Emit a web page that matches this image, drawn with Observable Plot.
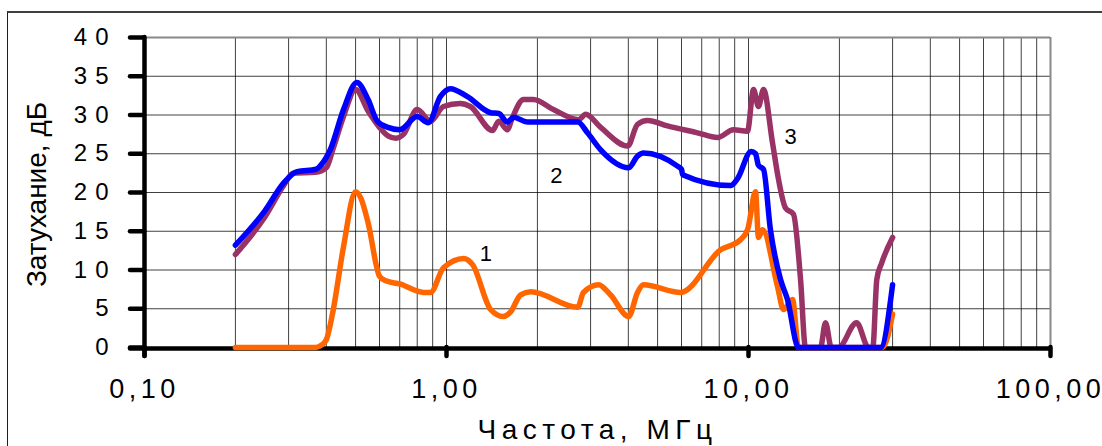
<!DOCTYPE html>
<html><head><meta charset="utf-8">
<script src="https://cdn.jsdelivr.net/npm/d3@7"></script>
<script src="https://cdn.jsdelivr.net/npm/@observablehq/plot@0.6"></script>
<style>
html,body{margin:0;padding:0;background:#fff;}
#wrap{position:relative;width:1102px;height:446px;overflow:hidden;background:#fff;}
#chart{position:absolute;left:0;top:0;}
#border{position:absolute;left:7px;top:11px;width:1200px;height:600px;border-top:2px solid #404040;border-left:1.5px solid #202020;pointer-events:none;}
</style></head><body>
<div id="wrap"><div id="chart"></div><div id="border"></div></div>
<script>
// Series 1 (orange)
const freq1 = [0.2, 0.3, 0.37, 0.385, 0.40, 0.42, 0.456, 0.50, 0.52, 0.55, 0.60, 0.63, 0.70, 0.84, 0.885, 0.977, 1.14, 1.22, 1.40, 1.54, 1.63, 1.76, 1.90, 2.72, 2.84, 3.19, 3.49, 4.01, 4.29, 4.49, 5.96, 8.08, 9.41, 9.95, 10.55, 10.79, 11.13, 12.47, 13.06, 13.99, 14.64, 27.78, 30];
const att1  = [0, 0, 0, 0.3, 1.0, 4.5, 13.0, 20.1, 19.3, 16.1, 9.2, 8.6, 8.2, 7.1, 7.1, 10.3, 11.5, 10.7, 4.9, 4.0, 4.6, 6.8, 7.2, 5.2, 7.1, 8.1, 6.8, 4.0, 7.1, 8.1, 7.1, 12.6, 13.9, 15.3, 20.1, 14.2, 15.2, 7.9, 4.9, 6.2, 0, 0, 4.3];
// Series 2 (blue)
const freq2 = [0.2, 0.25, 0.29, 0.32, 0.37, 0.385, 0.413, 0.456, 0.505, 0.55, 0.59, 0.64, 0.70, 0.80, 0.87, 0.955, 1.03, 1.17, 1.40, 1.49, 1.59, 1.67, 1.85, 2.72, 2.93, 3.24, 4.01, 4.29, 4.49, 5.82, 6.0, 6.05, 8.72, 9.2, 10.2, 10.55, 10.79, 11.21, 11.82, 12.76, 13.46, 14.64, 27.36, 30];
const att2  = [13.2, 17.6, 21.3, 22.7, 23.0, 23.6, 25.6, 30.7, 34.2, 32.0, 29.2, 28.4, 28.1, 29.8, 29.0, 32.4, 33.4, 32.4, 30.3, 30.2, 29.1, 29.7, 29.1, 29.1, 27.7, 25.5, 23.2, 24.7, 25.1, 23.4, 23.0, 22.3, 20.9, 21.8, 25.3, 25.0, 23.5, 23.0, 15.2, 8.8, 6.2, 0, 0, 8.1];
// Series 3 (purple)
const freq3 = [0.2, 0.25, 0.29, 0.31, 0.368, 0.40, 0.42, 0.456, 0.50, 0.55, 0.60, 0.64, 0.68, 0.72, 0.80, 0.885, 0.977, 1.11, 1.20, 1.42, 1.49, 1.59, 1.65, 1.80, 1.94, 2.26, 2.74, 2.89, 3.24, 3.98, 4.29, 4.63, 5.39, 6.78, 7.90, 8.92, 9.92, 10.39, 10.79, 11.21, 12.01, 12.57, 13.26, 14.09, 14.87, 15.44, 17.31, 17.99, 18.8, 19.86, 22.8, 24.97, 25.8, 26.6, 27.6, 30];
const att3  = [12.0, 16.8, 21.0, 22.5, 22.6, 23.2, 25.5, 29.8, 33.3, 30.5, 28.4, 27.3, 27.0, 27.5, 30.7, 29.2, 31.1, 31.5, 31.1, 28.0, 29.2, 28.1, 29.6, 32.0, 32.0, 30.7, 29.4, 30.1, 28.4, 26.0, 28.8, 29.3, 28.6, 27.7, 27.1, 28.1, 27.9, 33.3, 31.1, 33.3, 26.4, 21.7, 18.0, 17.2, 8.8, 0, 0, 3.2, 0, 0, 3.2, 0, 0, 8.8, 10.9, 14.2];

// Ticks, grid and labels
const yTicks = [0, 5, 10, 15, 20, 25, 30, 35, 40];
const yTickLabels = ["0", "5", "10", "15", "20", "25", "30", "35", "40"];
const xTicks = [0.1, 1, 10, 100];
const xTickLabels = ["0,10", "1,00", "10,00", "100,00"];
const gridX = [0.2, 0.3, 0.4, 0.5, 0.6, 0.7, 0.8, 0.9, 1, 2, 3, 4, 5, 6, 7, 8, 9, 10, 20, 30, 40, 50, 60, 70, 80, 90];
const gridY = [5, 10, 15, 20, 25, 30, 35];
const seriesLabels = ["1", "2", "3"];
const labelFreq = [1.35, 2.31, 13.8];
const labelAtt = [12.1, 22.1, 27.2];
const xTitle = "Частота, МГц";
const yTitle = "Затухание, дБ";

const mk = (f, a) => f.map((x, i) => ({f: x, a: a[i]}));
const s1 = mk(freq1, att1), s2 = mk(freq2, att2), s3 = mk(freq3, att3);
const font = "'Liberation Sans', Arial, sans-serif";
const lineOpts = {x: "f", y: "a", strokeWidth: 5.5, curve: "monotone-x", strokeLinejoin: "round", strokeLinecap: "round"};
const axisOpts = {stroke: "#000", strokeWidth: 4.5, strokeLinecap: "round"};

const svg = Plot.plot({
  width: 1102, height: 446,
  marginLeft: 144, marginRight: 52, marginTop: 37, marginBottom: 99,
  x: {type: "log", domain: [0.1, 100], axis: null},
  y: {domain: [0, 40], axis: null},
  style: {background: "transparent", fontFamily: font, color: "#000", overflow: "visible"},
  marks: [
    Plot.ruleX(gridX, {y1: 40, y2: 0, stroke: "#000", strokeOpacity: 0.75, strokeWidth: 1}),
    Plot.ruleY(gridY, {x1: 0.1, x2: 100, stroke: "#000", strokeOpacity: 0.75, strokeWidth: 1}),
    Plot.ruleY([40], {x1: 0.1, x2: 100, stroke: "#888", strokeWidth: 2}),
    Plot.ruleX([100], {y1: 40, y2: 0, stroke: "#888", strokeWidth: 2}),
    Plot.ruleX([0.1], {y1: 40, y2: 0, insetBottom: -9, ...axisOpts}),
    Plot.ruleY([0], {x1: 0.1, x2: 100, insetLeft: -14, dy: 1, ...axisOpts}),
    Plot.ruleY(yTicks, {x1: 0.1, x2: 0.1, insetLeft: -14, ...axisOpts}),
    Plot.ruleX(xTicks, {y1: 0, y2: 0, insetBottom: -9, ...axisOpts}),
    Plot.line(s1, {...lineOpts, stroke: "#FF6600"}),
    Plot.line(s3, {...lineOpts, stroke: "#993366"}),
    Plot.line(s2, {...lineOpts, stroke: "#0000FF"}),
    Plot.text(yTicks, {x: 0.1, y: d => d, text: (d, i) => yTickLabels[i], textAnchor: "end", lineAnchor: "middle", dx: -28, fontSize: 24, fill: "#000"}),
    Plot.text(xTicks, {x: d => d, y: 0, text: (d, i) => xTickLabels[i], lineAnchor: "bottom", dy: 50, fontSize: 27, fill: "#000"}),
    Plot.text([xTitle], {frameAnchor: "bottom", text: d => d, textAnchor: "middle", lineAnchor: "bottom", dy: 91, fontSize: 28, fill: "#000"}),
    Plot.text([yTitle], {frameAnchor: "left", text: d => d, rotate: -90, textAnchor: "middle", lineAnchor: "bottom", dx: -99, dy: 2, fontSize: 28, fill: "#000"}),
    Plot.text(seriesLabels, {x: (d, i) => labelFreq[i], y: (d, i) => labelAtt[i], text: d => d, fontSize: 22, fill: "#000"})
  ]
});
document.getElementById("chart").appendChild(svg);
const spacing = [8, 4.5, 5.5, 0, 0];
svg.querySelectorAll('g[aria-label="text"]').forEach((g, i) => { if (spacing[i]) g.style.letterSpacing = spacing[i] + "px"; });
</script>
</body></html>
